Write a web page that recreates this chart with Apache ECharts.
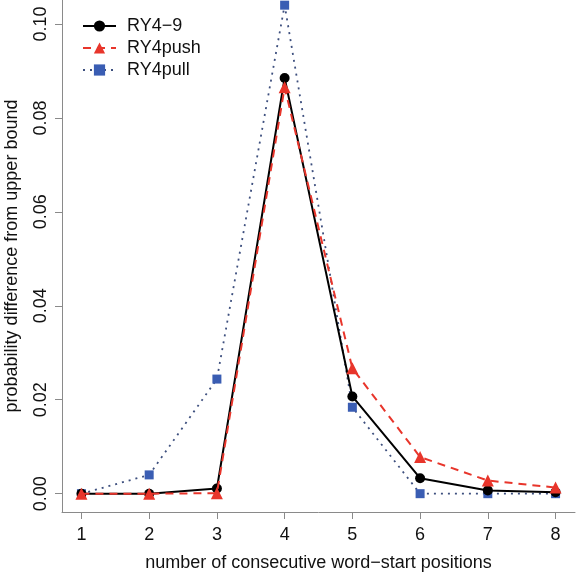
<!DOCTYPE html>
<html><head><meta charset="utf-8">
<script src="https://cdn.jsdelivr.net/npm/echarts@6/dist/echarts.min.js"></script>
<style>html,body{margin:0;padding:0;background:#fff}#c{width:576px;height:579px}</style>
</head><body><div id="c"></div>
<script>
const positions = [1, 2, 3, 4, 5, 6, 7, 8];
const ry49 = [0, 0, 0.0011, 0.0885, 0.0207, 0.0033, 0.0007, 0.0003];
const ry4push = [0, 0, 0.0001, 0.0865, 0.0267, 0.0078, 0.0028, 0.0013];
const ry4pull = [0, 0.0040, 0.0244, 0.1040, 0.0184, 0, 0, 0];
const yTicks = [0, 0.02, 0.04, 0.06, 0.08, 0.10];
const xTicks = [1, 2, 3, 4, 5, 6, 7, 8];

const FONT = 'Liberation Sans, Arial, Helvetica, sans-serif';
const AXIS_COLOR = '#8a8a8a';
const pairs = arr => positions.map((x, i) => [x, arr[i]]);

const chart = echarts.init(document.getElementById('c'), null, {renderer: 'canvas'});
chart.setOption({
  animation: false,
  backgroundColor: '#ffffff',
  textStyle: {fontFamily: FONT},
  grid: {left: 62, right: 1, top: 0, bottom: 67, containLabel: false, outerBoundsMode: 'none'},
  legend: {
    orient: 'vertical', left: 77, top: 12,
    itemWidth: 33, itemHeight: 14, itemGap: 4,
    data: ['RY4\u22129', 'RY4push', 'RY4pull'],
    textStyle: {fontFamily: FONT, fontSize: 18, color: '#111', lineHeight: 14, padding: [0, 0, 0, 6]}
  },
  xAxis: {
    type: 'value', min: 0.713, max: 8.287,
    name: 'number of consecutive word\u2212start positions',
    nameLocation: 'middle', nameGap: 42,
    nameTextStyle: {fontFamily: FONT, fontSize: 18, color: '#111'},
    axisLine: {show: true, onZero: false, lineStyle: {color: AXIS_COLOR, width: 1}},
    axisTick: {show: true, length: 7, customValues: xTicks, lineStyle: {color: AXIS_COLOR}},
    axisLabel: {customValues: xTicks, fontSize: 18, color: '#111', margin: 14, fontFamily: FONT},
    splitLine: {show: false}
  },
  yAxis: {
    type: 'value', min: -0.0039, max: 0.1051,
    name: 'probability difference from upper bound',
    nameLocation: 'middle', nameGap: 41, nameRotate: 90,
    nameTextStyle: {fontFamily: FONT, fontSize: 18, color: '#111'},
    axisLine: {show: true, onZero: false, lineStyle: {color: AXIS_COLOR, width: 1}},
    axisTick: {show: true, length: 7, customValues: yTicks, lineStyle: {color: AXIS_COLOR}},
    axisLabel: {customValues: yTicks, rotate: 90, align: 'center', verticalAlign: 'bottom',
      fontSize: 18, color: '#111', margin: 12, fontFamily: FONT,
      formatter: v => v.toFixed(2)},
    splitLine: {show: false}
  },
  series: [
    {
      name: 'RY4pull', type: 'line', data: pairs(ry4pull), z: 2,
      symbol: 'rect', symbolSize: 9,
      itemStyle: {color: '#3a5db3'},
      lineStyle: {color: '#3d4f7e', width: 1.8, type: [2, 5]}
    },
    {
      name: 'RY4\u22129', type: 'line', data: pairs(ry49), z: 3,
      symbol: 'circle', symbolSize: 10,
      itemStyle: {color: '#000000'},
      lineStyle: {color: '#000000', width: 2}
    },
    {
      name: 'RY4push', type: 'line', data: pairs(ry4push), z: 4,
      symbol: 'triangle', symbolSize: 12,
      itemStyle: {color: '#e8352b'},
      lineStyle: {color: '#e8352b', width: 2, type: [8, 6]}
    }
  ]
});
</script>
</body></html>
